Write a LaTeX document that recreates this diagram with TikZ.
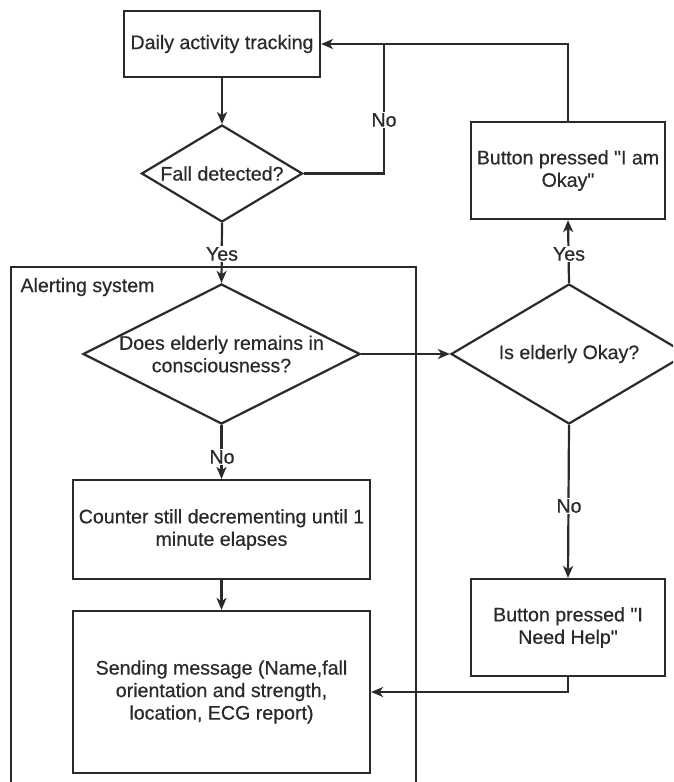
\documentclass[tikz,border=0pt]{standalone}
\usepackage{fontspec}
\newfontfamily\diagfont{Liberation Sans}[BoldFont=Liberation Sans, BoldFeatures={FakeBold=0.5}]
\usetikzlibrary{shapes.geometric,arrows.meta}
\definecolor{ink}{HTML}{2A2A2A}
\tikzset{
  every node/.style={font=\diagfont\fontsize{19.6}{22.5}\selectfont\bfseries, text=ink},
  procbox/.style={draw=ink, line width=2.2pt, rectangle, inner sep=0pt, align=center},
  decision/.style={draw=ink, line width=2.2pt, shape=diamond, inner sep=0pt},
  flow/.style={draw=ink, line width=2.2pt, -{Stealth[length=12pt,width=10pt,inset=3.5pt]}},
  plainline/.style={draw=ink, line width=2.2pt},
  edgelabel/.style={fill=white, inner sep=1.5pt},
}
\begin{document}
\begin{tikzpicture}[x=1pt,y=-1pt]
\useasboundingbox (0,0) rectangle (673,782);
\fill[white] (0,0) rectangle (673,782);
\clip (0,0) rectangle (673,782);

% container
\draw[plainline] (11,795) -- (11,267) -- (416,267) -- (416,795);
\node[anchor=west] (alertlbl) at (17,287) {Alerting system};

% nodes
\node[procbox, minimum width=196pt, minimum height=66pt] (daily) at (222,44) {Daily activity tracking};
\node[decision, minimum width=161pt, minimum height=97pt, label={[align=center]center:Fall detected?}] (fall) at (222,173.5) {};
\node[procbox, minimum width=194pt, minimum height=97pt] (okay) at (568,170.5) {Button pressed "I am\\Okay"};
\node[decision, minimum width=277pt, minimum height=140pt, label={[align=center]center:Does elderly remains in\\consciousness?}] (cons) at (221.5,354) {};
\node[decision, minimum width=236pt, minimum height=140pt, label={[align=center]center:Is elderly Okay?}] (isok) at (569,354) {};
\node[procbox, minimum width=297pt, minimum height=99pt] (counter) at (221.5,529.5) {Counter still decrementing until 1\\minute elapses};
\node[procbox, minimum width=194pt, minimum height=97pt] (help) at (568,627.5) {Button pressed "I\\Need Help"};
\node[procbox, minimum width=297pt, minimum height=162pt] (send) at (221.5,692) {Sending message (Name,fall\\orientation and strength,\\location, ECG report)};

\coordinate (nocorner) at (384,173.5);
\coordinate (topjoin) at (384,44);

% connectors
\draw[flow] (daily.south) -- (fall.north);
\draw[plainline] (fall.east) -- (nocorner) -- (topjoin);
\node[edgelabel] (nolbl1) at (384,120) {No};
\draw[flow] (okay.north) |- (daily.east);
\draw[flow] (fall.south) -- (cons.north);
\node[edgelabel] (yeslbl1) at (222,254) {Yes};
\draw[flow, line width=2.8pt] (cons.east) -- (isok.west);
\draw[flow] (isok.north) -- (okay.south);
\node[edgelabel] (yeslbl2) at (569,254) {Yes};
\draw[flow] (cons.south) -- (counter.north);
\node[edgelabel] (nolbl2) at (222,457) {No};
\draw[flow] (isok.south) -- (help.north);
\node[edgelabel] (nolbl3) at (569,506) {No};
\draw[flow] (counter.south) -- (send.north);
\draw[flow] (help.south) |- (send.east);
\end{tikzpicture}
\end{document}
